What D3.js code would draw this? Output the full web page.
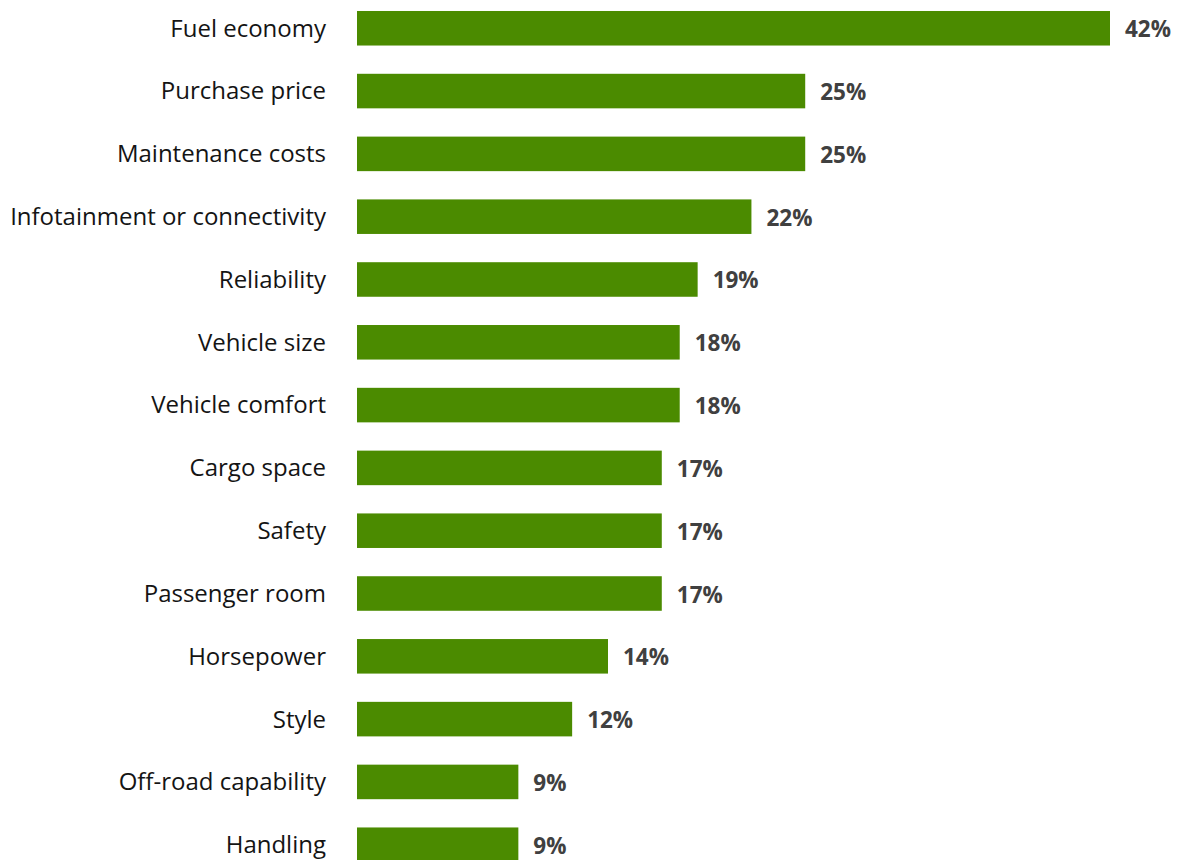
<!DOCTYPE html>
<html>
<head>
<meta charset="utf-8">
<script src="https://cdn.jsdelivr.net/npm/d3@7"></script>
<style>
  html,body{margin:0;padding:0;background:#fff;}
  svg{display:block;}
  .label{font-family:"Open Sans",sans-serif;font-size:24px;fill:#141414;}
  .value{font-family:"Open Sans",sans-serif;font-size:22.5px;font-weight:bold;fill:#404040;}
</style>
</head>
<body>
<svg id="svg" width="1178" height="860"></svg>
<script>
const categories = ["Fuel economy","Purchase price","Maintenance costs","Infotainment or connectivity",
  "Reliability","Vehicle size","Vehicle comfort","Cargo space","Safety","Passenger room",
  "Horsepower","Style","Off-road capability","Handling"];
const values = [42,25,25,22,19,18,18,17,17,17,14,12,9,9];

const svg = d3.select("#svg");

const x = d3.scaleLinear().domain([0,42]).range([357,1110]);
const step = 62.85;
const y = d3.scaleBand()
  .domain(categories)
  .range([11 - 0.23*step, 11 - 0.23*step + categories.length*step])
  .paddingInner(0.45).paddingOuter(0.23);

const rows = categories.map((c,i)=>({cat:c, val:values[i]}));

svg.append("g").selectAll("rect")
  .data(rows).enter().append("rect")
  .attr("x", x(0))
  .attr("y", d=>y(d.cat))
  .attr("width", d=>x(d.val)-x(0))
  .attr("height", y.bandwidth())
  .attr("fill", "#4b8b00");

svg.append("g").selectAll("text")
  .data(rows).enter().append("text")
  .attr("class","label")
  .attr("x", 326)
  .attr("y", d=>y(d.cat)+y.bandwidth()/2)
  .attr("dy","0.35em")
  .attr("text-anchor","end")
  .text(d=>d.cat);

svg.append("g").selectAll("text")
  .data(rows).enter().append("text")
  .attr("class","value")
  .attr("x", d=>x(d.val)+15)
  .attr("y", d=>y(d.cat)+y.bandwidth()/2)
  .attr("dy","0.4em")
  .text(d=>d.val+"%");
</script>
</body>
</html>
